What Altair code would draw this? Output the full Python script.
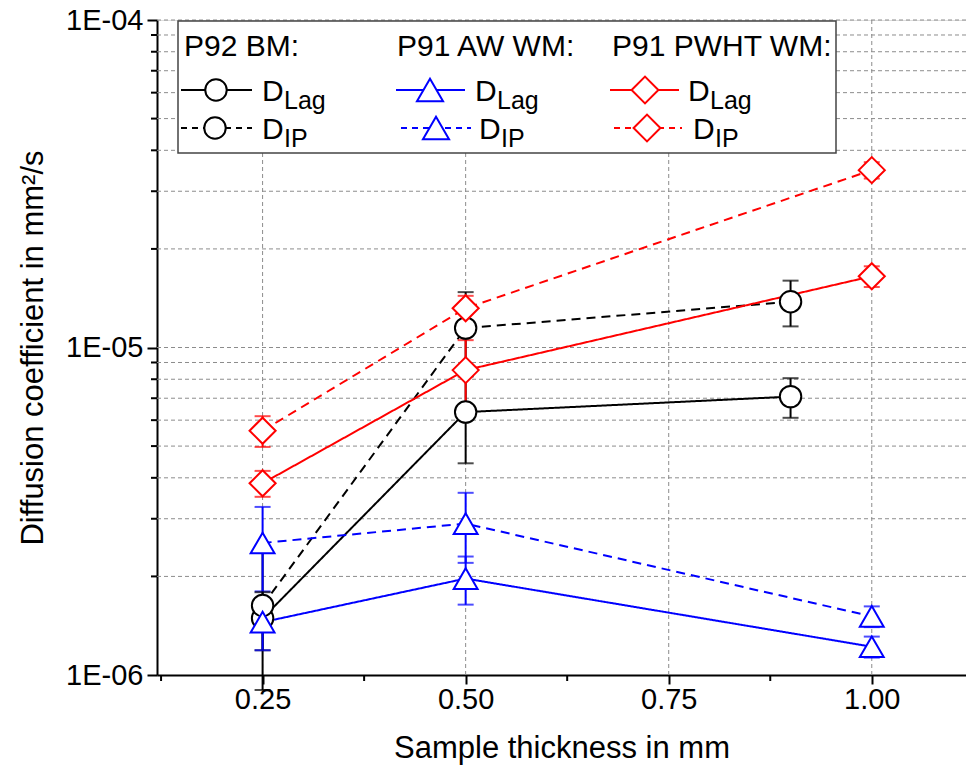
import altair as alt
import pandas as pd

# ---------------- data ----------------
x_p92 = [0.25, 0.50, 0.90]
x_p91 = [0.25, 0.50, 1.00]

p92_lag = [1.49e-6, 6.35e-6, 7.08e-6]
p92_lag_err = [0.30e-6, 1.92e-6, 0.98e-6]
p92_ip = [1.63e-6, 1.146e-5, 1.38e-5]
p92_ip_err = [0.73e-6, 0.33e-5, 0.22e-5]

aw_lag = [1.45e-6, 1.97e-6, 1.22e-6]
aw_lag_err = [0.26e-6, 0.33e-6, 0.09e-6]
aw_ip = [2.53e-6, 2.90e-6, 1.51e-6]
aw_ip_err = [0.73e-6, 0.70e-6, 0.11e-6]

pwht_lag = [3.85e-6, 8.53e-6, 1.65e-5]
pwht_lag_err = [0.35e-6, 2.00e-6, 0.12e-5]
pwht_ip = [5.57e-6, 1.318e-5, 3.48e-5]
pwht_ip_err = [0.60e-6, 0.12e-5, 0.20e-5]

groups = ["P92 BM", "P91 AW WM", "P91 PWHT WM"]
group_labels = ["P92 BM:", "P91 AW WM:", "P91 PWHT WM:"]
group_colors = ["#000000", "#0000ff", "#ff0000"]
group_shapes = ["circle", "triangle-up", "diamond"]
kinds = ["Lag", "IP"]

x_ticks = [0.25, 0.50, 0.75, 1.00]
x_minor = [0.125, 0.375, 0.625, 0.875]
y_major = [1e-6, 1e-5, 1e-4]
y_minor = [2e-6, 3e-6, 4e-6, 5e-6, 6e-6, 7e-6, 8e-6, 9e-6,
           2e-5, 3e-5, 4e-5, 5e-5, 6e-5, 7e-5, 8e-5, 9e-5]

# ---------------- tables ----------------
series_def = [
    ("P92 BM", "Lag", x_p92, p92_lag, p92_lag_err),
    ("P92 BM", "IP", x_p92, p92_ip, p92_ip_err),
    ("P91 AW WM", "Lag", x_p91, aw_lag, aw_lag_err),
    ("P91 AW WM", "IP", x_p91, aw_ip, aw_ip_err),
    ("P91 PWHT WM", "Lag", x_p91, pwht_lag, pwht_lag_err),
    ("P91 PWHT WM", "IP", x_p91, pwht_ip, pwht_ip_err),
]
rows = []
for g, k, xs, vs, es in series_def:
    for xv, v, e in zip(xs, vs, es):
        rows.append({"group": g, "kind": k, "series": g + " " + k,
                     "x": xv, "v": v, "lo": v - e, "hi": v + e})
df = pd.DataFrame(rows)

W, H = 809, 655
FONT = "Liberation Sans"
LFS = 29   # tick labels
TFS = 31   # axis titles
GFS = 30   # legend text

xscale = alt.Scale(type="linear", domain=[0.12, 1.116], nice=False, zero=False)
yscale = alt.Scale(type="log", domain=[1e-6, 1e-4], nice=False)

xaxis = alt.Axis(values=x_ticks, format=".2f", grid=False, labelFontSize=LFS,
                 titleFontSize=TFS, labelFont=FONT, titleFont=FONT,
                 labelColor="black", titleColor="black", titleFontWeight="normal",
                 domainColor="black", domainWidth=2, tickColor="black",
                 tickWidth=2, tickSize=9, labelPadding=1, titlePadding=19)
yaxis = alt.Axis(values=y_major, labelExpr="'1E-0' + round(-log(datum.value)/LN10)",
                 grid=False, labelFontSize=LFS, titleFontSize=TFS, labelFont=FONT,
                 titleFont=FONT, labelColor="black", titleColor="black",
                 titleFontWeight="normal", domainColor="black", domainWidth=2,
                 tickColor="black", tickWidth=2, tickSize=10, labelPadding=4,
                 titlePadding=16)

XT = "Sample thickness in mm"
YT = "Diffusion coefficient in mm²/s"


def X(f):
    return alt.X(f + ":Q", scale=xscale, axis=xaxis, title=XT)


def Y(f):
    return alt.Y(f + ":Q", scale=yscale, axis=yaxis, title=YT)


color_scale = alt.Scale(domain=groups, range=group_colors)
dash_scale = alt.Scale(domain=kinds, range=[[1, 0], [9, 6]])

# grid
ygrid_df = pd.DataFrame({"v": y_minor + [1e-5, 1e-4]})
xgrid_df = pd.DataFrame({"x": x_ticks})
ygrid = alt.Chart(ygrid_df).mark_rule(stroke="#8c8c8c", strokeWidth=1,
                                      strokeDash=[4, 3]).encode(
    y=Y("v"), x=alt.value(0), x2=alt.value(W))
xgrid = alt.Chart(xgrid_df).mark_rule(stroke="#8c8c8c", strokeWidth=1,
                                      strokeDash=[4, 3]).encode(
    x=X("x"), y=alt.value(0), y2=alt.value(H))

# minor ticks
yminor = alt.Chart(pd.DataFrame({"v": y_minor})).mark_rule(
    stroke="black", strokeWidth=2).encode(y=Y("v"), x=alt.value(-6), x2=alt.value(0))
xminor = alt.Chart(pd.DataFrame({"x": x_minor})).mark_rule(
    stroke="black", strokeWidth=2).encode(x=X("x"), y=alt.value(H), y2=alt.value(H + 6))

base = alt.Chart(df)
lines = base.mark_line(strokeWidth=2).encode(
    x=X("x"), y=Y("v"),
    color=alt.Color("group:N", scale=color_scale, legend=None),
    strokeDash=alt.StrokeDash("kind:N", scale=dash_scale, legend=None),
    detail="series:N", order="x:Q")

err = base.mark_rule(strokeWidth=2).encode(
    x=X("x"), y=Y("lo"), y2="hi:Q",
    color=alt.Color("group:N", scale=color_scale, legend=None))
cap_lo = base.mark_tick(orient="horizontal", size=16, thickness=2).encode(
    x=X("x"), y=Y("lo"),
    color=alt.Color("group:N", scale=color_scale, legend=None))
cap_hi = base.mark_tick(orient="horizontal", size=16, thickness=2).encode(
    x=X("x"), y=Y("hi"),
    color=alt.Color("group:N", scale=color_scale, legend=None))

marker_sizes = [460, 680, 720]
markers = base.mark_point(strokeWidth=2, fill="white", fillOpacity=1, opacity=1).encode(
    x=X("x"), y=Y("v"),
    stroke=alt.Stroke("group:N", scale=color_scale, legend=None),
    shape=alt.Shape("group:N", scale=alt.Scale(domain=groups, range=group_shapes), legend=None),
    size=alt.Size("group:N", scale=alt.Scale(domain=groups, range=marker_sizes), legend=None))

# ---------------- custom legend ----------------
one = pd.DataFrame({"a": [0]})
leg_layers = []
leg_layers.append(alt.Chart(one).mark_rect(fill="white", stroke="#444444", strokeWidth=1.5).encode(
    x=alt.value(21), x2=alt.value(679), y=alt.value(1), y2=alt.value(133)))

col_header_x = [27, 240, 455]
row_line_x = {
    "Lag": [(24, 95, 59), (239, 308, 273), (453, 522, 488)],
    "IP": [(24, 95, 58), (244, 314, 279), (457, 525, 490)],
}
row_y = {"Lag": 70, "IP": 108}
row_d_x = {"Lag": [105, 318, 531], "IP": [105, 322, 536]}
row_base = {"Lag": 81, "IP": 119}

for i, g in enumerate(groups):
    leg_layers.append(alt.Chart(one).mark_text(
        align="left", baseline="alphabetic", font=FONT, fontSize=GFS, color="black").encode(
        x=alt.value(col_header_x[i]), y=alt.value(36), text=alt.value(group_labels[i])))
    for k in kinds:
        x1, x2, xm = row_line_x[k][i]
        yy = row_y[k]
        leg_layers.append(alt.Chart(one).mark_rule(
            stroke=group_colors[i], strokeWidth=2,
            strokeDash=[1, 0] if k == "Lag" else [6, 5]).encode(
            x=alt.value(x1), x2=alt.value(x2), y=alt.value(yy)))
        leg_layers.append(alt.Chart(one).mark_point(
            shape=group_shapes[i], size=marker_sizes[i], stroke=group_colors[i],
            fill="white", fillOpacity=1, opacity=1, strokeWidth=2).encode(
            x=alt.value(xm), y=alt.value(yy)))
        dx = row_d_x[k][i]
        yb = row_base[k]
        leg_layers.append(alt.Chart(one).mark_text(
            align="left", baseline="alphabetic", font=FONT, fontSize=GFS, color="black").encode(
            x=alt.value(dx), y=alt.value(yb), text=alt.value("D")))
        leg_layers.append(alt.Chart(one).mark_text(
            align="left", baseline="alphabetic", font=FONT, fontSize=25, color="black").encode(
            x=alt.value(dx + 22), y=alt.value(yb + 8), text=alt.value(k)))

chart = alt.layer(
    ygrid, xgrid, yminor, xminor, lines, err, cap_lo, cap_hi, markers, *leg_layers
).properties(
    width=W, height=H,
    autosize=alt.AutoSizeParams(type="none"),
    padding={"left": 149, "top": 12, "right": 0, "bottom": 92},
).configure_view(stroke=None).configure(font=FONT)

chart.save("out.html", embed_options={"renderer": "svg", "actions": False})
